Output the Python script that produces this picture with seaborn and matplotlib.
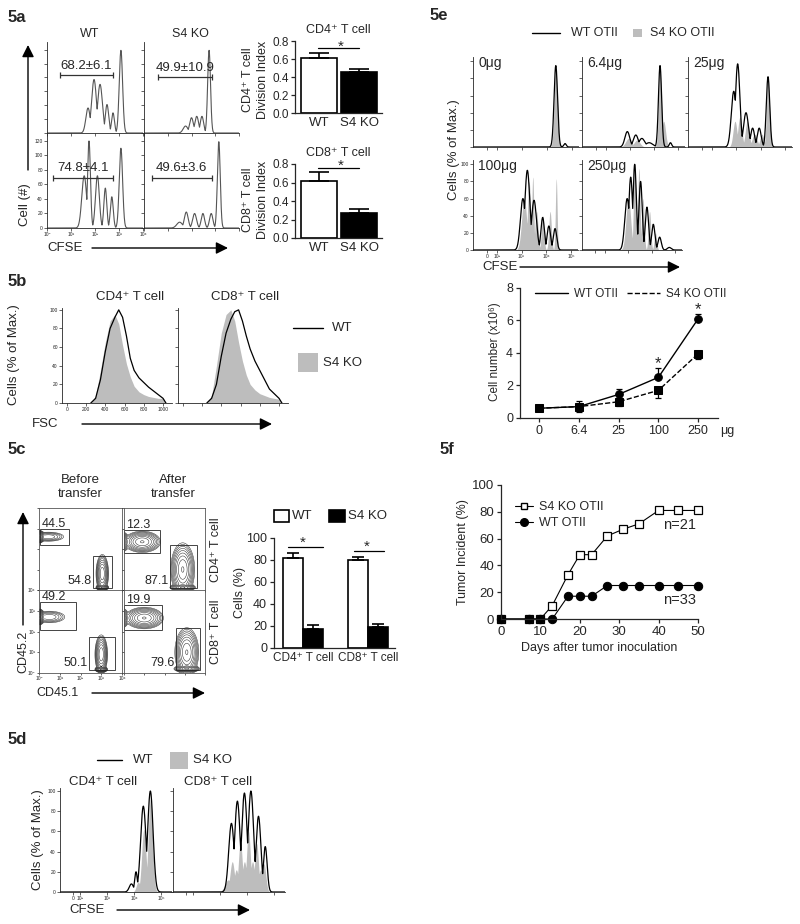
import numpy as np
import pandas as pd
import matplotlib
matplotlib.use("Agg")
import matplotlib.pyplot as plt
import seaborn as sns
from matplotlib.patches import Rectangle, FancyArrowPatch
from matplotlib.lines import Line2D

# ---------------- data ----------------
# flow histograms: peaks as (position, height, width); position in decades
a_cd4_wt = [(1.71, 36, 0.09), (1.96, 77, 0.1), (2.21, 70, 0.1), (2.5, 41, 0.07), (2.75, 29, 0.06), (3.08, 119, 0.07)]
a_cd4_ko = [(1.75, 10, 0.1), (2.0, 22, 0.08), (2.22, 24, 0.08), (2.44, 24, 0.07), (2.74, 119, 0.06)]
a_cd8_wt = [(1.55, 72, 0.1), (1.75, 120, 0.06), (2.1, 72, 0.08), (2.43, 55, 0.06), (2.7, 43, 0.06), (3.08, 110, 0.07)]
a_cd8_ko = [(1.5, 8, 0.12), (1.78, 22, 0.08), (2.13, 20, 0.08), (2.48, 20, 0.07), (2.83, 20, 0.07), (3.15, 119, 0.06)]
a_gate_txt = ["68.2±6.1", "49.9±10.9", "74.8±4.1", "49.6±3.6"]
a_gate_lo = [0.54, 0.59, 0.25, 0.33]
a_gate_hi = [2.76, 2.85, 2.76, 2.85]
a_gate_y = [83, 80, 69, 69]

a_groups = ["WT", "S4 KO"]
a_cd4_idx = [0.61, 0.46]
a_cd4_err = [0.06, 0.03]
a_cd8_idx = [0.62, 0.27]
a_cd8_err = [0.09, 0.04]

b_fsc = [250, 300, 350, 400, 450, 500, 540, 580, 620, 660, 700, 750, 800, 850, 900, 950, 1000, 1030]
b_cd4_wt = [0, 5, 25, 55, 80, 92, 100, 92, 72, 48, 35, 27, 22, 17, 13, 9, 5, 0]
b_cd4_ko = [0, 8, 35, 65, 88, 95, 85, 62, 42, 28, 18, 12, 9, 7, 6, 5, 5, 0]
b_cd8_wt = [0, 5, 20, 50, 75, 90, 98, 100, 88, 72, 58, 45, 35, 25, 15, 10, 5, 0]
b_cd8_ko = [0, 8, 40, 75, 95, 100, 88, 65, 45, 30, 20, 14, 10, 8, 6, 5, 4, 0]

# contour blobs (x, y, sx, sy, weight) and gates (x0, y0, x1, y1), decades
c_before_cd4_blobs = [(0.05, 2.6, 0.07, 0.12, 1.0), (0.45, 2.6, 0.4, 0.12, 0.25), (3.05, 0.8, 0.13, 0.4, 0.7), (3.05, 0.12, 0.12, 0.05, 1.0)]
c_after_cd4_blobs = [(0.0, 2.35, 0.08, 0.2, 0.6), (0.9, 2.35, 0.38, 0.22, 0.8), (2.9, 1.0, 0.25, 0.55, 0.8), (2.9, 0.12, 0.25, 0.06, 1.0)]
c_before_cd8_blobs = [(0.05, 2.7, 0.07, 0.15, 1.0), (0.5, 2.7, 0.4, 0.15, 0.25), (3.0, 0.9, 0.13, 0.4, 0.7), (3.0, 0.17, 0.12, 0.05, 1.0)]
c_after_cd8_blobs = [(0.0, 2.65, 0.08, 0.2, 0.5), (1.0, 2.65, 0.4, 0.22, 0.8), (3.1, 1.0, 0.25, 0.5, 0.8), (3.1, 0.2, 0.25, 0.06, 1.0)]
c_before_cd4_gates = [(0.05, 2.2, 1.45, 3.0), (2.6, 0.1, 3.5, 1.66)]
c_after_cd4_gates = [(0.0, 1.8, 1.8, 2.93), (2.25, 0.1, 3.6, 2.2)]
c_before_cd8_gates = [(0.05, 2.07, 1.8, 3.42), (2.4, 0.15, 3.65, 1.73)]
c_after_cd8_gates = [(0.0, 2.07, 1.9, 3.28), (2.55, 0.15, 3.75, 2.17)]
c_before_cd4_pct = ["44.5", "54.8"]
c_after_cd4_pct = ["12.3", "87.1"]
c_before_cd8_pct = ["49.2", "50.1"]
c_after_cd8_pct = ["19.9", "79.6"]

c_cells = ["CD4⁺ T cell", "CD8⁺ T cell"]
c_wt_pct = [82, 80]
c_wt_err = [4, 2.5]
c_ko_pct = [17, 19]
c_ko_err = [4, 3]

d_cd4_wt = [(3.9, 8, 0.08), (4.07, 20, 0.05), (4.34, 85, 0.1), (4.6, 100, 0.1)]
d_cd4_ko = [(4.15, 10, 0.07), (4.36, 62, 0.08), (4.6, 92, 0.08)]
d_cd8_wt = [(3.42, 68, 0.1), (3.64, 90, 0.1), (3.9, 98, 0.1), (4.14, 100, 0.1), (4.42, 75, 0.09), (4.67, 45, 0.07)]
d_cd8_ko = [(3.3, 12, 0.12), (3.45, 30, 0.08), (3.6, 22, 0.08), (3.75, 50, 0.07), (3.9, 30, 0.08),
            (4.05, 60, 0.07), (4.2, 30, 0.08), (4.35, 48, 0.07), (4.5, 22, 0.08), (4.62, 28, 0.07)]

e0_wt = [(4.35, 95, 0.07), (4.72, 4, 0.05)]
e0_ko = [(4.35, 92, 0.065)]
e64_wt = [(2.9, 18, 0.1), (3.25, 14, 0.1), (3.5, 10, 0.12), (3.8, 5, 0.15), (4.25, 95, 0.065), (4.68, 5, 0.05)]
e64_ko = [(2.95, 10, 0.12), (3.3, 8, 0.12), (4.25, 90, 0.06), (4.4, 30, 0.08)]
e25_wt = [(2.9, 65, 0.1), (3.06, 97, 0.09), (3.4, 40, 0.1), (3.67, 22, 0.08), (3.94, 22, 0.08), (4.3, 82, 0.07)]
e25_ko = [(2.95, 30, 0.08), (3.15, 35, 0.08), (3.45, 30, 0.08), (3.75, 15, 0.1), (4.05, 15, 0.08), (4.3, 80, 0.06)]
e100_wt = [(3.05, 60, 0.1), (3.23, 93, 0.1), (3.5, 58, 0.1), (3.85, 38, 0.07), (4.1, 28, 0.07), (4.35, 25, 0.07)]
e100_ko = [(3.1, 60, 0.1), (3.3, 80, 0.06), (3.45, 85, 0.04), (3.6, 45, 0.06), (3.85, 40, 0.05), (4.15, 45, 0.05), (4.4, 83, 0.035)]
e250_wt = [(2.95, 60, 0.1), (3.1, 85, 0.08), (3.27, 100, 0.07), (3.52, 80, 0.07), (3.79, 50, 0.07), (4.06, 30, 0.07), (4.33, 15, 0.07), (4.74, 3, 0.08)]
e250_ko = [(3.0, 60, 0.1), (3.27, 100, 0.05), (3.45, 95, 0.05), (3.62, 60, 0.05), (3.9, 45, 0.05), (4.15, 20, 0.05)]
e_dose_txt = ["0μg", "6.4μg", "25μg", "100μg", "250μg"]

e_doses = ["0", "6.4", "25", "100", "250"]
e_wt_num = [0.6, 0.7, 1.45, 2.5, 6.1]
e_wt_err = [0.05, 0.35, 0.35, 0.55, 0.27]
e_ko_num = [0.6, 0.7, 1.0, 1.7, 3.95]
e_ko_err = [0.05, 0.35, 0.25, 0.45, 0.3]

f_days = [0, 7, 10, 13, 17, 20, 23, 27, 31, 35, 40, 45, 50]
f_ko = [0, 0, 0, 10, 33, 48, 48, 62, 67, 71, 81, 81, 81]
f_wt = [0, 0, 0, 0, 17, 17, 17, 25, 25, 25, 25, 25, 25]

# ---------------- style ----------------
sns.set_theme(style="ticks")
plt.rcParams["font.family"] = ["Liberation Sans", "DejaVu Sans"]
plt.rcParams["axes.linewidth"] = 0.9
plt.rcParams["xtick.major.width"] = 0.9
plt.rcParams["ytick.major.width"] = 0.9
GRAY = "#bdbdbd"

W, H = 800, 924
fig = plt.figure(figsize=(W / 100, H / 100), dpi=100)


def box(x0, y0, x1, y1):
    return fig.add_axes([x0 / W, 1 - y1 / H, (x1 - x0) / W, (y1 - y0) / H])


def label(x, y, s, size=9, ha="center", va="center", **kw):
    fig.text(x / W, 1 - y / H, s, fontsize=size, ha=ha, va=va, **kw)


def arrow(x0, y0, x1, y1):
    fig.add_artist(FancyArrowPatch((x0 / W, 1 - y0 / H), (x1 / W, 1 - y1 / H),
                                   transform=fig.transFigure, shrinkA=0, shrinkB=0,
                                   arrowstyle="-|>,head_length=0.6,head_width=0.3",
                                   mutation_scale=12, lw=1.0, color="black"))


def key_line(x0, x1, y, ls="-"):
    fig.add_artist(Line2D([x0 / W, x1 / W], [1 - y / H] * 2, transform=fig.transFigure,
                          color="black", lw=1.0, ls=ls))


def key_box(x0, y0, x1, y1, fc, ec="none"):
    fig.add_artist(Rectangle((x0 / W, 1 - y1 / H), (x1 - x0) / W, (y1 - y0) / H,
                             transform=fig.transFigure, fc=fc, ec=ec, lw=1.2))


def curve(grid, peaks):
    y = np.zeros_like(grid)
    for c, h, w in peaks:
        y = np.maximum(y, h * np.exp(-0.5 * ((grid - c) / w) ** 2))
    return y


def flow_style(ax, xlim, ylim, xticks, yticks, xlab=None, ylab=None):
    ax.set_xlim(xlim)
    ax.set_ylim(ylim)
    ax.set_xticks(xticks)
    ax.set_yticks(yticks)
    ax.set_xticklabels(xlab if xlab else [])
    ax.set_yticklabels(ylab if ylab else [])
    sns.despine(ax=ax)
    for s in ("left", "bottom"):
        ax.spines[s].set_linewidth(0.6)
    ax.tick_params(length=2, width=0.5, labelsize=3.5, pad=1)
    ax.patch.set_alpha(0)


def flow_panel(rect, xlim, ylim, line=None, fill=None, color="black", lw=0.9):
    ax = box(*rect)
    g = np.linspace(xlim[0], xlim[1], 900)
    if fill is not None:
        ax.fill_between(g, curve(g, fill), color=GRAY, lw=0)
    if line is not None:
        ax.plot(g, curve(g, line), color=color, lw=lw)
    return ax


# ---------------- 5a ----------------
label(8, 17, "5a", size=12, ha="left", weight="bold")
label(90, 34, "WT")
label(190, 34, "S4 KO")
a_rects = [(47, 42, 143, 133), (144, 42, 239, 133), (47, 133, 143, 228), (144, 133, 239, 228)]
a_curves = [a_cd4_wt, a_cd4_ko, a_cd8_wt, a_cd8_ko]
dec = [0, 1, 2, 3, 4]
for i, (r, pk) in enumerate(zip(a_rects, a_curves)):
    ax = flow_panel(r, (0, 4), (0, 131), line=pk, color="#555", lw=0.8)
    xl = ["10⁰", "10¹", "10²", "10³", "10⁴"] if i == 2 else None
    yl = [str(v) for v in range(0, 121, 20)] if i == 2 else None
    flow_style(ax, (0, 4), (0, 131), dec, range(0, 121, 20), xl, yl)
    mid = (a_gate_lo[i] + a_gate_hi[i]) / 2
    ax.errorbar(mid, a_gate_y[i], xerr=(a_gate_hi[i] - a_gate_lo[i]) / 2, fmt="none",
                ecolor="#333", elinewidth=0.9, capsize=2.5, capthick=0.9)
    ax.text(mid, a_gate_y[i] + 14, a_gate_txt[i], ha="center", va="center", fontsize=9.5)
label(25, 205, "Cell (#)", size=9.5, rotation=90)
arrow(28, 170, 28, 45)
label(65, 248, "CFSE", size=9.5)
arrow(92, 248, 228, 248)

for rect, vals, errs, ttl, yl in [((295, 41, 382, 113), a_cd4_idx, a_cd4_err, "CD4⁺ T cell", 80),
                                  ((295, 164, 382, 238), a_cd8_idx, a_cd8_err, "CD8⁺ T cell", 200)]:
    ax = box(*rect)
    sns.barplot(x=a_groups, y=vals, hue=a_groups, palette=["white", "black"], edgecolor="black",
                linewidth=1.2, width=0.9, legend=False, errorbar=None, ax=ax)
    ax.errorbar([0, 1], vals, yerr=[[0, 0], errs], fmt="none", ecolor="black",
                elinewidth=1.2, capsize=7, capthick=1.2)
    ax.set_xlim(-0.6, 1.575)
    ax.set_ylim(0, 0.8)
    ax.set_yticks([0, 0.2, 0.4, 0.6, 0.8])
    ax.set_yticklabels(["0.0", "0.2", "0.4", "0.6", "0.8"])
    ax.tick_params(axis="y", labelsize=8.5, length=3, pad=1.5)
    ax.tick_params(axis="x", labelsize=9.5, length=0, pad=3)
    sns.despine(ax=ax)
    ax.set_title(ttl, fontsize=9, pad=6)
    top = max(v + e for v, e in zip(vals, errs))
    ax.plot([-0.03, 1.0], [top + 0.05, top + 0.05], color="black", lw=0.9, clip_on=False)
    ax.text(0.55, top + 0.07, "*", ha="center", va="center", fontsize=11, clip_on=False)
    label(248, yl, ttl, size=9, rotation=90)
    label(263, yl, "Division Index", size=9, rotation=90)

# ---------------- 5b ----------------
label(8, 282, "5b", size=12, ha="left", weight="bold")
label(130, 297, "CD4⁺ T cell", size=9.5)
label(245, 297, "CD8⁺ T cell", size=9.5)
for i, (rect, wt, ko) in enumerate([((62, 308, 172, 403), b_cd4_wt, b_cd4_ko),
                                    ((178, 308, 288, 403), b_cd8_wt, b_cd8_ko)]):
    ax = box(*rect)
    ax.fill_between(b_fsc, ko, color=GRAY, lw=0)
    ax.plot(b_fsc, wt, color="black", lw=0.9)
    xl = [str(v) for v in range(0, 1001, 200)] if i == 0 else None
    yl = [str(v) for v in range(0, 101, 20)] if i == 0 else None
    flow_style(ax, (-49, 1093), (0, 102), range(0, 1001, 200), range(0, 101, 20), xl, yl)
label(14, 355, "Cells (% of Max.)", size=9.5, rotation=90)
label(45, 424, "FSC", size=9.5)
arrow(82, 424, 272, 424)
key_line(293, 323, 328)
label(332, 328, "WT", size=9.5, ha="left")
key_box(298, 353, 318, 372, GRAY)
label(323, 363, "S4 KO", size=9.5, ha="left")

# ---------------- 5c ----------------
label(8, 450, "5c", size=12, ha="left", weight="bold")
label(80, 487, "Before\ntransfer", size=9.5, linespacing=1.3)
label(173, 487, "After\ntransfer", size=9.5, linespacing=1.3)
gx, gy = np.meshgrid(np.linspace(0, 4, 240), np.linspace(0, 4, 240))
c_panels = [((39, 508, 122, 590), c_before_cd4_blobs, c_before_cd4_gates, c_before_cd4_pct),
            ((124, 508, 205, 590), c_after_cd4_blobs, c_after_cd4_gates, c_after_cd4_pct),
            ((39, 590, 122, 673), c_before_cd8_blobs, c_before_cd8_gates, c_before_cd8_pct),
            ((124, 590, 205, 673), c_after_cd8_blobs, c_after_cd8_gates, c_after_cd8_pct)]
for i, (rect, blobs, gates, pcts) in enumerate(c_panels):
    ax = box(*rect)
    z = np.zeros_like(gx)
    for cx, cy, sx, sy, wgt in blobs:
        z = z + wgt * np.exp(-0.5 * (((gx - cx) / sx) ** 2 + ((gy - cy) / sy) ** 2))
    ax.contour(gx, gy, z, levels=z.max() * np.geomspace(0.04, 0.9, 10), colors="#222", linewidths=0.35)
    for (x0, y0, x1, y1) in gates:
        ax.add_patch(Rectangle((x0, y0), x1 - x0, y1 - y0, fill=False, ec="#444", lw=0.7))
    ax.text(gates[0][0] + 0.08, gates[0][3] - 0.05, pcts[0], fontsize=9, ha="left", va="bottom")
    ax.text(gates[1][0] - 0.05, gates[1][1] + 0.35, pcts[1], fontsize=9, ha="right", va="center")
    ax.set_xlim(0, 4)
    ax.set_ylim(0, 4)
    ax.set_xticks(dec)
    ax.set_yticks(dec)
    lab = ["10⁰", "10¹", "10²", "10³", "10⁴"] if i == 2 else []
    ax.set_xticklabels(lab)
    ax.set_yticklabels(lab)
    ax.tick_params(length=1.5, width=0.5, labelsize=3.5, pad=1)
    for s in ax.spines.values():
        s.set_linewidth(0.6)
        s.set_color("#555")
label(216, 550, "CD4⁺ T cell", size=9, rotation=90)
label(216, 632, "CD8⁺ T cell", size=9, rotation=90)
arrow(23, 625, 23, 512)
label(23, 652, "CD45.2", size=9, rotation=90)
label(58, 693, "CD45.1", size=9)
arrow(92, 693, 205, 693)

ax = box(274, 538, 395, 648)
cdf = pd.DataFrame({"cell": c_cells * 2, "pct": c_wt_pct + c_ko_pct,
                    "geno": ["WT"] * 2 + ["S4 KO"] * 2})
sns.barplot(data=cdf, x="cell", y="pct", hue="geno", palette=["white", "black"], edgecolor="black",
            linewidth=1.2, width=0.62, legend=False, errorbar=None, ax=ax)
for cont, errs in zip(ax.containers, [c_wt_err, c_ko_err]):
    for bar, e in zip(cont, errs):
        ax.errorbar(bar.get_x() + bar.get_width() / 2, bar.get_height(), yerr=[[0], [e]],
                    fmt="none", ecolor="black", elinewidth=1.2, capsize=4, capthick=1.2)
ax.set_xlim(-0.45, 1.415)
ax.set_ylim(0, 100)
ax.set_yticks(range(0, 101, 20))
ax.tick_params(axis="y", labelsize=9, length=3, pad=2)
ax.tick_params(axis="x", labelsize=8.5, length=0, pad=3)
ax.set_xlabel("")
ax.set_ylabel("")
sns.despine(ax=ax)
ax.plot([-0.23, 0.3], [92, 92], color="black", lw=0.9)
ax.text(0.0, 96, "*", ha="center", va="center", fontsize=11)
ax.plot([0.78, 1.25], [88, 88], color="black", lw=0.9)
ax.text(0.98, 92, "*", ha="center", va="center", fontsize=11)
label(240, 593, "Cells (%)", size=9, rotation=90)
key_box(274, 510, 289, 522, "white", "black")
label(292, 516, "WT", size=9.5, ha="left")
key_box(329, 510, 345, 522, "black", "black")
label(348, 516, "S4 KO", size=9.5, ha="left")

# ---------------- 5d ----------------
label(8, 740, "5d", size=12, ha="left", weight="bold")
key_line(97, 122, 760)
label(133, 760, "WT", size=9.5, ha="left")
key_box(170, 752, 188, 769, GRAY)
label(193, 760, "S4 KO", size=9.5, ha="left")
label(103, 782, "CD4⁺ T cell", size=9.5)
label(218, 782, "CD8⁺ T cell", size=9.5)
for i, (rect, wt, ko) in enumerate([((60, 788, 172, 892), d_cd4_wt, d_cd4_ko),
                                    ((173, 788, 285, 892), d_cd8_wt, d_cd8_ko)]):
    ax = flow_panel(rect, (1.26, 5.4), (0, 103), line=wt, fill=ko)
    xl = ["0", "10²", "10³", "10⁴", "10⁵"] if i == 0 else None
    yl = [str(v) for v in range(0, 101, 20)] if i == 0 else None
    flow_style(ax, (1.26, 5.4), (0, 103), [1.73, 2, 3, 4, 5], range(0, 101, 20), xl, yl)
label(38, 840, "Cells (% of Max.)", size=9.5, rotation=90)
label(87, 910, "CFSE", size=9.5)
arrow(117, 910, 250, 910)

# ---------------- 5e ----------------
label(430, 15, "5e", size=12, ha="left", weight="bold")
key_line(532, 560, 33)
label(571, 33, "WT OTII", size=9, ha="left")
key_box(633, 29, 642, 37, GRAY)
label(650, 33, "S4 KO OTII", size=9, ha="left")
e_panels = [((473, 57, 579, 147), e0_wt, e0_ko), ((582, 57, 685, 147), e64_wt, e64_ko),
            ((688, 57, 792, 147), e25_wt, e25_ko), ((473, 160, 578, 250), e100_wt, e100_ko),
            ((582, 160, 682, 250), e250_wt, e250_ko)]
for i, ((rect, wt, ko), txt) in enumerate(zip(e_panels, e_dose_txt)):
    ax = flow_panel(rect, (1.03, 5.28), (0, 105), line=wt, fill=ko)
    xl = ["0", "10²", "10³", "10⁴", "10⁵"] if i == 3 else None
    yl = [str(v) for v in range(0, 101, 20)] if i == 3 else None
    flow_style(ax, (1.03, 5.28), (0, 105), [1.6, 2, 3, 4, 5], range(0, 101, 20), xl, yl)
    ax.text(0.05, 0.93, txt, transform=ax.transAxes, fontsize=10, ha="left", va="center")
label(454, 150, "Cells (% of Max.)", size=9.5, rotation=90)
label(500, 267, "CFSE", size=9.5)
arrow(520, 267, 680, 267)

ax = box(520, 288, 718, 418)
xpos = np.arange(len(e_doses))
sns.lineplot(x=xpos, y=e_wt_num, ax=ax, color="black", lw=1.0, marker="o", ms=5.5,
             markeredgecolor="black", label="WT OTII")
sns.lineplot(x=xpos, y=e_ko_num, ax=ax, color="black", lw=1.0, ls="--", marker="s", ms=5.5,
             markeredgecolor="black", label="S4 KO OTII")
ax.errorbar(xpos, e_wt_num, yerr=[np.zeros(5), e_wt_err], fmt="none", ecolor="black",
            elinewidth=0.9, capsize=2.5, capthick=0.9)
ax.errorbar(xpos, e_ko_num, yerr=[e_ko_err, np.zeros(5)], fmt="none", ecolor="black",
            elinewidth=0.9, capsize=2.5, capthick=0.9)
for k in (3, 4):
    ax.text(k, e_wt_num[k] + e_wt_err[k] + 0.3, "*", ha="center", va="center", fontsize=12)
ax.set_xlim(-0.48, 4.5)
ax.set_ylim(0, 8)
ax.set_xticks(xpos)
ax.set_xticklabels(e_doses)
ax.set_yticks(range(0, 9, 2))
ax.tick_params(labelsize=9, length=3, pad=2)
sns.despine(ax=ax)
hl = [Line2D([], [], color="black", lw=1.0), Line2D([], [], color="black", lw=1.0, ls="--")]
ax.legend(hl, ["WT OTII", "S4 KO OTII"], ncol=2, frameon=False, fontsize=8.5, loc="upper left",
          bbox_to_anchor=(530 / W, 1 - 283 / H), bbox_transform=fig.transFigure,
          handlelength=2.8, columnspacing=0.8, handletextpad=0.5, borderaxespad=0)
label(720, 431, "μg", size=9, ha="left")
label(495, 352, "Cell number (x10⁶)", size=8.5, rotation=90)

# ---------------- 5f ----------------
label(440, 450, "5f", size=12, ha="left", weight="bold")
ax = box(501, 485, 698, 619)
sns.lineplot(x=f_days, y=f_ko, ax=ax, color="black", lw=0.8, marker="s", ms=5.5,
             markerfacecolor="white", markeredgecolor="black", markeredgewidth=0.9, clip_on=False)
sns.lineplot(x=f_days, y=f_wt, ax=ax, color="black", lw=0.8, marker="o", ms=6,
             markeredgecolor="black", clip_on=False)
ax.set_xlim(0, 50)
ax.set_ylim(0, 100)
ax.set_xticks(range(0, 51, 10))
ax.set_yticks(range(0, 101, 20))
ax.tick_params(labelsize=9.5, length=3, pad=2)
sns.despine(ax=ax)
ax.set_xlabel("Days after tumor inoculation", fontsize=9, labelpad=3)
ax.set_ylabel("Tumor Incident (%)", fontsize=9, labelpad=2)
hf = [Line2D([], [], color="black", lw=0.8, marker="s", ms=5, mfc="white", mec="black"),
      Line2D([], [], color="black", lw=0.8, marker="o", ms=5.5, mfc="black", mec="black")]
ax.legend(hf, ["S4 KO OTII", "WT OTII"], frameon=False, fontsize=9, loc="upper left",
          bbox_to_anchor=(510 / W, 1 - 496 / H), bbox_transform=fig.transFigure,
          handlelength=1.4, handletextpad=0.5, labelspacing=0.35, borderaxespad=0)
label(663, 525, "n=21", size=10.5, ha="left")
label(663, 600, "n=33", size=10.5, ha="left")

fig.savefig("out.png", dpi=100)
